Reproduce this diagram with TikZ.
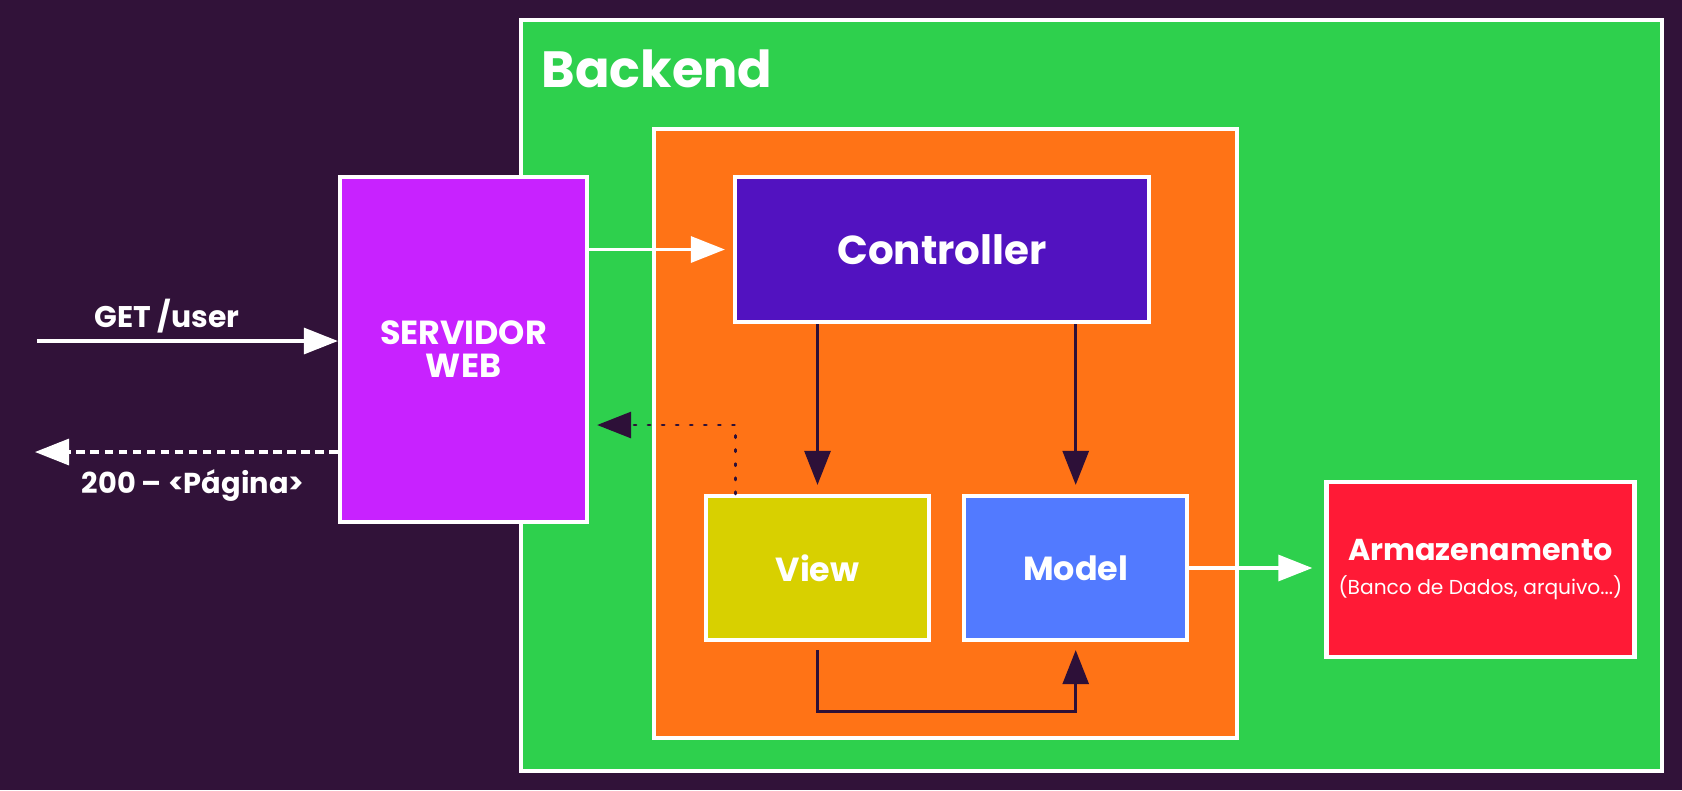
\documentclass[tikz,border=0pt]{standalone}
\usepackage{fontspec}
\setmainfont{Poppins}
\usetikzlibrary{positioning, arrows.meta}
\definecolor{night}{RGB}{49,18,57}
\definecolor{backgreen}{RGB}{46,208,77}
\definecolor{coreorange}{RGB}{255,115,22}
\definecolor{ctrlblue}{RGB}{82,18,192}
\definecolor{servpurple}{RGB}{200,34,255}
\definecolor{viewyellow}{RGB}{216,208,0}
\definecolor{modelblue}{RGB}{82,122,255}
\definecolor{storered}{RGB}{255,26,54}
\definecolor{arrowdark}{RGB}{45,16,56}

\begin{document}
\begin{tikzpicture}[%
    >={Triangle[length=3.4mm,width=2.6mm]},
    every node/.style={%
      text=white,
      align=center
    },
    box/.style={draw=white, line width=1.2pt, inner sep=0pt},
    big/.style={font=\bfseries\fontsize{11.5}{14}\selectfont},
    mid/.style={font=\bfseries\fontsize{9.5}{9.4}\selectfont},
    small/.style={font=\bfseries\fontsize{8.2}{9}\selectfont},
    wire/.style={->, draw=white, line width=0.9pt},
    flow/.style={->, draw=arrowdark, line width=0.8pt}
  ]

  \fill[night] (0,0) rectangle (16.82,-7.90);
  \useasboundingbox (0,0) rectangle (16.82,-7.90);

  \node[box, fill=backgreen, minimum width=11.41cm, minimum height=7.51cm]
    (backend) at (10.915,-3.955) {};
  \node[anchor=base west, inner sep=0pt, font=\bfseries\fontsize{14.5}{17}\selectfont]
    (backendlabel) at (5.41,-0.87) {Backend};
  \node[box, fill=coreorange, minimum width=5.83cm, minimum height=6.09cm]
    (core) at (9.455,-4.335) {};

  \node[box, fill=servpurple, minimum width=2.47cm, minimum height=3.45cm, mid]
    (servidor) at (4.635,-3.495) {SERVIDOR\\WEB};
  \node[box, fill=ctrlblue, minimum width=4.14cm, minimum height=1.45cm, big]
    (controller) at (9.42,-2.495) {Controller};
  \node[box, fill=viewyellow, minimum width=2.23cm, minimum height=1.44cm, mid]
    (view) at (8.175,-5.68) {View};
  \node[box, fill=modelblue, minimum width=2.23cm, minimum height=1.44cm, mid,
    right=0.31cm of view] (model) {Model};
  \node[box, fill=storered, minimum width=3.08cm, minimum height=1.75cm,
    right=1.35cm of model, yshift=-0.015cm, font=\fontsize{8.6}{9.4}\selectfont]
    (storage)
    {\bfseries Armazenamento\\
     \fontsize{5.75}{9.4}\selectfont (Banco de Dados, arquivo...)};

  % Request and response
  \coordinate (client) at (0.37,-3.41);
  \coordinate (reply) at (0.35,-4.52);
  \draw[wire] (client) -- (client -| servidor.west);
  \node[small, font=\bfseries\fontsize{8.5}{9}\selectfont, anchor=base]
    (getlabel) at (1.67,-3.27) {GET /user};
  \draw[wire, dash pattern=on 2.4pt off 1.6pt] (reply -| servidor.west) -- (reply);
  \node[small, anchor=base] (replylabel) at (1.93,-4.93) {200 – <Página>};

  \draw[wire] (servidor.east |- controller.west) -- ([xshift=-0.8mm]controller.west);
  \draw[wire] (model.east) -- ([xshift=-1.2mm]storage.west |- model.east);

  \draw[flow, shorten >=0.9mm] (controller.south -| view.north) -- (view.north);
  \draw[flow, shorten >=0.9mm] (controller.south -| model.north) -- (model.north);
  \draw[flow, shorten <=0.8mm, shorten >=0.8mm]
    (view.south) -- ++(0,-0.69) -| (model.south);
  \draw[flow, line cap=round, dash pattern=on 0.6pt off 3.4pt]
    ([xshift=3.2mm]view.north west) |- ([xshift=0.8mm,yshift=-7.55mm]servidor.east);

\end{tikzpicture}
\end{document}
